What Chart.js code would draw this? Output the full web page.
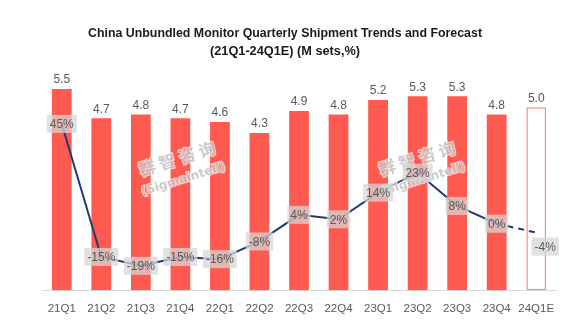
<!DOCTYPE html>
<html>
<head>
<meta charset="utf-8">
<script src="https://cdn.jsdelivr.net/npm/chart.js@4"></script>
<style>
  html, body { margin: 0; padding: 0; background: #fff; }
  #wrap { width: 585px; height: 323px; }
</style>
</head>
<body>
<div id="wrap"><canvas id="shipChart" width="585" height="323"></canvas></div>
<script>
const quarters = ['21Q1', '21Q2', '21Q3', '21Q4', '22Q1', '22Q2', '22Q3', '22Q4', '23Q1', '23Q2', '23Q3', '23Q4', '24Q1E'];
const shipments = [5.5, 4.7, 4.8, 4.7, 4.6, 4.3, 4.9, 4.8, 5.2, 5.3, 5.3, 4.8, 5.0];
const growth = [45, -15, -19, -15, -16, -8, 4, 2, 14, 23, 8, 0, -4];
const titleLines = ['China Unbundled Monitor Quarterly Shipment Trends and Forecast', '(21Q1-24Q1E) (M sets,%)'];

const lastIdx = quarters.length - 1;
const textGray = '#595959';

// title, watermark and data labels
const decorPlugin = {
  id: 'decor',
  afterDraw(chart) {
    const ctx = chart.ctx;
    ctx.save();

    // title
    ctx.fillStyle = '#1a1a1a';
    ctx.textAlign = 'center';
    ctx.textBaseline = 'middle';
    ctx.font = 'bold 13px "Liberation Sans", Arial, sans-serif';
    ctx.fillText(titleLines[0], 285, 33, 394);
    ctx.fillText(titleLines[1], 285, 51, 150);

    // watermark
    [[180, 168], [420, 168]].forEach(([wx, wy]) => {
      ctx.save();
      ctx.translate(wx, wy);
      ctx.rotate(-0.3);
      ctx.lineWidth = 2;
      ctx.strokeStyle = 'rgba(255,255,255,0.7)';
      ctx.fillStyle = 'rgba(160,160,160,0.55)';
      ctx.font = 'bold 17px "Noto Sans CJK SC", sans-serif';
      ctx.strokeText('群 智 咨 询', 0, -10);
      ctx.fillText('群 智 咨 询', 0, -10);
      ctx.font = 'bold 12px "DejaVu Sans", sans-serif';
      ctx.strokeText('(Sigmaintell)', 0, 12);
      ctx.fillText('(Sigmaintell)', 0, 12);
      ctx.restore();
    });

    // bar value labels
    const barMeta = chart.getDatasetMeta(1);
    ctx.fillStyle = textGray;
    ctx.font = '12px "Liberation Sans", Arial, sans-serif';
    barMeta.data.forEach((bar, i) => {
      ctx.fillText(shipments[i].toFixed(1), bar.x, bar.y - 9);
    });

    // growth labels in grey boxes
    const lineMeta = chart.getDatasetMeta(0);
    lineMeta.data.forEach((pt, i) => {
      const txt = growth[i] + '%';
      let x = pt.x, y = pt.y;
      if (i === lastIdx) { x += 9; y += 14; }
      const w = ctx.measureText(txt).width + 6;
      const h = 18;
      ctx.fillStyle = 'rgba(215,215,215,0.75)';
      ctx.fillRect(x - w / 2, y - h / 2, w, h);
      ctx.fillStyle = textGray;
      ctx.fillText(txt, x, y + 1);
    });

    ctx.restore();
  }
};

const ctx = document.getElementById('shipChart').getContext('2d');
const shipChart = new Chart(ctx, {
  type: 'bar',
  data: {
    labels: quarters,
    datasets: [
      {
        type: 'line',
        data: growth,
        yAxisID: 'y1',
        borderColor: '#1F3A73',
        borderWidth: 2,
        pointRadius: 0,
        tension: 0,
        segment: {
          borderDash: c => c.p1DataIndex === lastIdx ? [6, 5] : undefined
        }
      },
      {
        data: shipments,
        yAxisID: 'y',
        backgroundColor: shipments.map((v, i) => i === lastIdx ? '#ffffff' : '#FF5A4F'),
        borderColor: shipments.map((v, i) => i === lastIdx ? '#FF8A82' : '#FF5A4F'),
        borderWidth: shipments.map((v, i) => i === lastIdx ? 1.5 : 0),
        borderSkipped: false,
        barPercentage: 0.5,
        categoryPercentage: 1
      }
    ]
  },
  options: {
    responsive: false,
    animation: false,
    layout: {
      padding: { left: 42, right: 29, top: 70.7, bottom: -5 }
    },
    plugins: {
      legend: { display: false },
      tooltip: { enabled: false }
    },
    scales: {
      x: {
        grid: { display: false, drawTicks: false },
        border: { color: '#D9D9D9', width: 1 },
        ticks: {
          color: textGray,
          padding: 12,
          autoSkip: false,
          maxRotation: 0,
          font: { family: '"Liberation Sans", Arial, sans-serif', size: 11.5 }
        }
      },
      y: { display: false, min: 0, max: 6 },
      y1: { display: false, min: -30, max: 69 }
    }
  },
  plugins: [decorPlugin]
});
</script>
</body>
</html>
